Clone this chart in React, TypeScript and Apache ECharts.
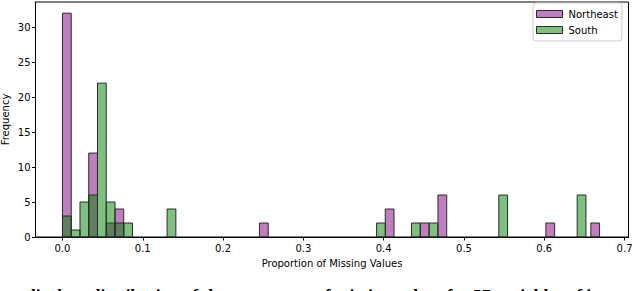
import React, { useEffect, useRef } from "react";
import * as echarts from "echarts";

// Histogram bins (left edge of each bin, proportion of missing values) and counts
const BIN_WIDTH = 0.0109;
const NORTHEAST_STARTS = [0.0, 0.0327, 0.0545, 0.0654, 0.2453, 0.402, 0.4457, 0.4676, 0.602, 0.658];
const NORTHEAST_COUNTS = [32, 12, 2, 4, 2, 4, 2, 6, 2, 2];
const SOUTH_STARTS = [0.0, 0.0109, 0.0218, 0.0327, 0.0436, 0.0545, 0.0654, 0.0763, 0.1303, 0.3912, 0.4346, 0.4566, 0.5434, 0.641];
const SOUTH_COUNTS = [3, 1, 5, 6, 22, 5, 2, 2, 4, 2, 2, 2, 6, 6];
const X_TICKS = [0, 0.1, 0.2, 0.3, 0.4, 0.5, 0.6, 0.7];
const Y_TICKS = [0, 5, 10, 15, 20, 25, 30];
const X_MIN = -0.0336;
const X_MAX = 0.7049;
const Y_MAX = 33.6;

const NE_FILL = "rgba(128,0,128,0.5)";
const SOUTH_FILL = "rgba(0,128,0,0.5)";
const EDGE = "#2a2a2a";
const FONT = "DejaVu Sans";

const CAPTION = "displays distribution of the percentage of missing values for 57 variables of interest";

const makeRender = (fill: string) => (_params: any, api: any) => {
  const x0 = api.value(0);
  const c = api.value(1);
  const p1 = api.coord([x0, c]);
  const p2 = api.coord([x0 + BIN_WIDTH, 0]);
  return {
    type: "rect",
    shape: { x: p1[0], y: p1[1], width: p2[0] - p1[0], height: p2[1] - p1[1] },
    style: { fill, stroke: EDGE, lineWidth: 1 },
  };
};

export default function App() {
  const ref = useRef<HTMLDivElement>(null);
  useEffect(() => {
    if (!ref.current) return;
    const chart = echarts.init(ref.current, undefined, { renderer: "svg" });
    chart.setOption({
      animation: false,
      backgroundColor: "#fff",
      grid: {
        left: 35.5,
        right: 11.5,
        top: 2,
        bottom: 54,
        outerBoundsMode: "none",
        containLabel: false,
        show: true,
        borderColor: "#000",
        borderWidth: 1,
        backgroundColor: "transparent",
      },
      legend: {
        orient: "vertical",
        left: 533,
        top: 3,
        padding: [5, 4, 5, 3],
        itemGap: 4,
        itemWidth: 26,
        itemHeight: 7,
        backgroundColor: "rgba(255,255,255,0.8)",
        borderColor: "#cccccc",
        borderWidth: 1,
        borderRadius: 3,
        textStyle: { fontFamily: FONT, fontSize: 10, color: "#000", lineHeight: 12, padding: [0, 0, 0, 1] },
        data: [
          { name: "Northeast", icon: "rect", itemStyle: { color: NE_FILL, borderColor: EDGE, borderWidth: 1 } },
          { name: "South", icon: "rect", itemStyle: { color: SOUTH_FILL, borderColor: EDGE, borderWidth: 1 } },
        ],
      },
      xAxis: {
        type: "value",
        min: X_MIN,
        max: X_MAX,
        name: "Proportion of Missing Values",
        nameLocation: "middle",
        nameGap: 21,
        nameTextStyle: { fontFamily: FONT, fontSize: 10, color: "#000", verticalAlign: "top" },
        splitLine: { show: false },
        axisLine: { show: true, onZero: false, lineStyle: { color: "#000", width: 1 } },
        axisTick: { show: true, length: 3.5, customValues: X_TICKS, lineStyle: { color: "#000" } },
        axisLabel: {
          customValues: X_TICKS,
          fontFamily: FONT,
          fontSize: 10,
          color: "#000",
          margin: 6,
          formatter: (v: number) => v.toFixed(1),
        },
      },
      yAxis: {
        type: "value",
        min: 0,
        max: Y_MAX,
        name: "Frequency",
        nameLocation: "middle",
        nameGap: 25,
        nameMoveOverlap: false,
        nameTextStyle: { fontFamily: FONT, fontSize: 10, color: "#000" },
        splitLine: { show: false },
        axisLine: { show: true, onZero: false, lineStyle: { color: "#000", width: 1 } },
        axisTick: { show: true, length: 3.5, customValues: Y_TICKS, lineStyle: { color: "#000" } },
        axisLabel: {
          customValues: Y_TICKS,
          fontFamily: FONT,
          fontSize: 10,
          color: "#000",
          margin: 5,
        },
      },
      graphic: [
        {
          type: "text",
          left: 26,
          top: 286,
          style: {
            text: CAPTION,
            font: 'bold 17.5px "Liberation Serif"',
            fill: "#000",
          },
        },
      ],
      series: [
        {
          name: "Northeast",
          type: "custom",
          renderItem: makeRender(NE_FILL),
          itemStyle: { color: NE_FILL },
          encode: { x: 0, y: 1 },
          data: NORTHEAST_STARTS.map((s, i) => [s, NORTHEAST_COUNTS[i]]),
          z: 2,
        },
        {
          name: "South",
          type: "custom",
          renderItem: makeRender(SOUTH_FILL),
          itemStyle: { color: SOUTH_FILL },
          encode: { x: 0, y: 1 },
          data: SOUTH_STARTS.map((s, i) => [s, SOUTH_COUNTS[i]]),
          z: 3,
        },
      ],
    });
    return () => chart.dispose();
  }, []);
  return (
    <div
      ref={ref}
      style={{ position: "fixed", left: 0, top: 0, width: 640, height: 291, background: "#fff" }}
    />
  );
}
